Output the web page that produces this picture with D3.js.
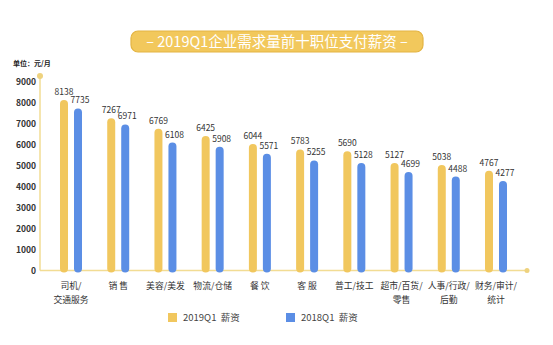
<!DOCTYPE html>
<html>
<head>
<meta charset="utf-8">
<script src="https://cdn.jsdelivr.net/npm/d3@7"></script>
<style>
  body { margin: 0; background: #fff; }
  text { font-family: "Noto Sans CJK SC", "Noto Sans", sans-serif; }
</style>
</head>
<body>
<svg id="chart"></svg>
<script>
// chart data
var categories = ["司机/|交通服务", "销 售", "美容/美发", "物流/仓储", "餐 饮", "客 服", "普工/技工", "超市/百货/|零售", "人事/行政/|后勤", "财务/审计/|统计"];
var series = ["2019Q1  薪资", "2018Q1  薪资"];
var values2019 = [8138, 7267, 6769, 6425, 6044, 5783, 5690, 5127, 5038, 4767];
var values2018 = [7735, 6971, 6108, 5908, 5571, 5255, 5128, 4699, 4488, 4277];
var yTicks = [0, 1000, 2000, 3000, 4000, 5000, 6000, 7000, 8000, 9000];

var width = 553, height = 345;
var colors = ["#F1C75E", "#5B8EE5"];
var axisColor = "#F2DC93";

var svg = d3.select("#chart")
  .attr("width", width)
  .attr("height", height);

// title banner
svg.append("rect")
  .attr("x", 131).attr("y", 31)
  .attr("width", 292).attr("height", 21)
  .attr("rx", 7)
  .style("fill", "#F2C85C")
  .style("stroke", "#E3B443")
  .style("stroke-width", 1.2);

svg.append("text")
  .attr("x", 277).attr("y", 47)
  .attr("text-anchor", "middle")
  .style("fill", "#fff")
  .style("font-size", "14.5px")
  .text("– 2019Q1企业需求量前十职位支付薪资 –");

var x = d3.scalePoint()
  .domain(categories)
  .range([71, 496]);

var xInner = d3.scalePoint()
  .domain(series)
  .range([-7, 7]);

var y = d3.scaleLinear()
  .domain([0, 9000])
  .range([270.5, 82]);

// axes lines
svg.append("line")
  .attr("x1", 40).attr("x2", 40)
  .attr("y1", 76).attr("y2", y(0))
  .style("stroke", axisColor).style("stroke-width", 1.5);
svg.append("circle")
  .attr("cx", 40).attr("cy", 76).attr("r", 3)
  .style("fill", "#EED27E");

svg.append("line")
  .attr("x1", 40).attr("x2", 527)
  .attr("y1", y(0)).attr("y2", y(0))
  .style("stroke", axisColor).style("stroke-width", 1.5);
svg.append("circle")
  .attr("cx", 527).attr("cy", y(0)).attr("r", 2.5)
  .style("fill", "#EED27E");

// y tick labels
var yAxis = d3.axisLeft(y)
  .tickValues(yTicks)
  .tickFormat(d3.format("d"))
  .tickSize(0)
  .tickPadding(0);

var yg = svg.append("g")
  .attr("transform", "translate(36,0)")
  .call(yAxis);
yg.select(".domain").remove();
yg.selectAll("text")
  .style("font-size", "8.5px")
  .style("font-weight", "bold")
  .style("fill", "#333");

svg.append("text")
  .attr("x", 13).attr("y", 66)
  .style("font-size", "7px")
  .style("font-weight", "bold")
  .style("fill", "#222")
  .text("单位：元/月");

// bars
var allSeries = [values2019, values2018];
allSeries.forEach(function(vals, si) {
  var g = svg.append("g");
  g.selectAll("rect")
    .data(vals)
    .enter()
    .append("rect")
    .attr("x", function(d, i) { return x(categories[i]) + xInner(series[si]) - 4; })
    .attr("y", function(d) { return y(d); })
    .attr("width", 8)
    .attr("height", function(d) { return y(0) - y(d) + 2; })
    .attr("rx", 4)
    .style("fill", colors[si]);

  g.selectAll("text")
    .data(vals)
    .enter()
    .append("text")
    .attr("x", function(d, i) { return x(categories[i]) + xInner(series[si]) + (si == 0 ? 0 : 2); })
    .attr("y", function(d) { return y(d) - 5; })
    .attr("text-anchor", "middle")
    .style("font-size", "8.5px")
    .style("fill", "#333")
    .text(function(d) { return d; });
});

// category labels
var cat = svg.append("g").selectAll("text")
  .data(categories)
  .enter()
  .append("text")
  .attr("text-anchor", "middle")
  .style("font-size", "8.8px")
  .style("fill", "#333");

cat.each(function(d) {
  var lines = d.split("|");
  var t = d3.select(this);
  lines.forEach(function(l, k) {
    t.append("tspan")
      .attr("x", x(d))
      .attr("y", 289 + k * 14)
      .text(l);
  });
});

// legend
var legend = svg.append("g");
var legendX = [168, 286];
series.forEach(function(s, i) {
  legend.append("rect")
    .attr("x", legendX[i]).attr("y", 313)
    .attr("width", 9).attr("height", 9)
    .style("fill", colors[i]);
  legend.append("text")
    .attr("x", legendX[i] + 15).attr("y", 321)
    .style("font-size", "9.5px")
    .style("fill", "#444")
    .style("white-space", "pre")
    .text(s);
});
</script>
</body>
</html>
